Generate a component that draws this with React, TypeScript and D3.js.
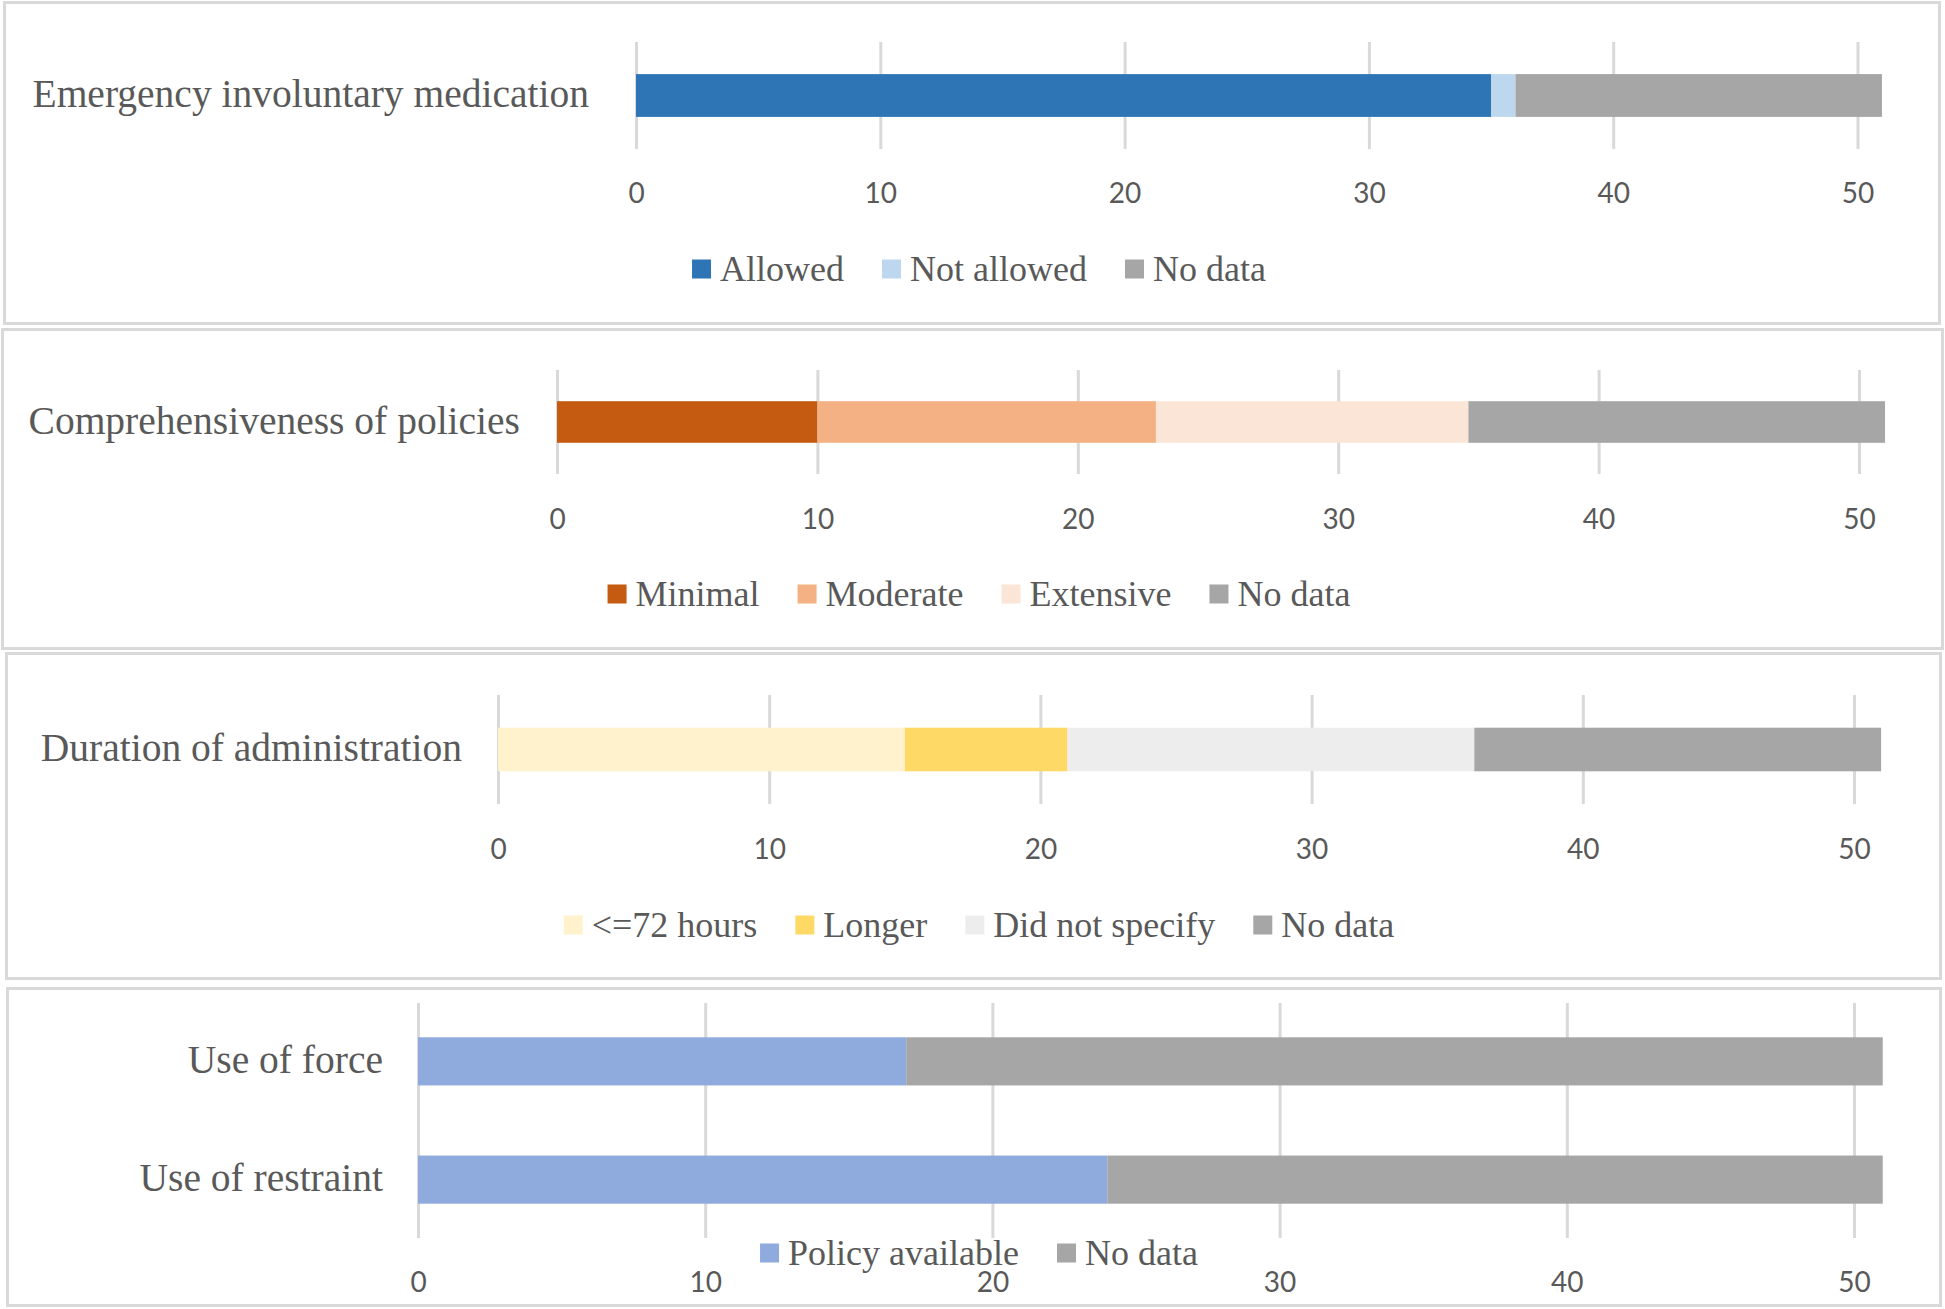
import { useEffect, useRef } from 'react'
import * as d3 from 'd3'

// panel 1 - emergency involuntary medication
const medCategories = ['Emergency involuntary medication']
const medSeries = ['Allowed', 'Not allowed', 'No data']
const medValues = [[35], [1], [15]]
const medColors = ['#2E75B6', '#BDD7EE', '#A6A6A6']

// panel 2 - comprehensiveness of policies
const compCategories = ['Comprehensiveness of policies']
const compSeries = ['Minimal', 'Moderate', 'Extensive', 'No data']
const compValues = [[10], [13], [12], [16]]
const compColors = ['#C55A11', '#F4B183', '#FBE5D6', '#A6A6A6']

// panel 3 - duration of administration
const durCategories = ['Duration of administration']
const durSeries = ['<=72 hours', 'Longer', 'Did not specify', 'No data']
const durValues = [[15], [6], [15], [15]]
const durColors = ['#FFF2CC', '#FFD966', '#EDEDED', '#A6A6A6']

// panel 4 - force / restraint
const forceCategories = ['Use of force', 'Use of restraint']
const forceSeries = ['Policy available', 'No data']
const forceValues = [[17, 24], [34, 27]]
const forceColors = ['#8FAADC', '#A6A6A6']

const xTicks = [0, 10, 20, 30, 40, 50]

const W = 1945
const H = 1309
const TEXT = '#595959'
const GRID = '#D9D9D9'
const SERIF = '"Liberation Serif", "Times New Roman", serif'
const SANS = 'Lato, "Open Sans", sans-serif'

// layout per panel (pixel positions)
const layouts = [
  { box: [3, 1, 1938, 324], x0: 636, x50: 1857.5, band: [42, 149], pi: 0.6, po: 0.3, tickY: 193, legendY: 269, labelRight: 589 },
  { box: [1, 328, 1943, 322], x0: 557, x50: 1859, band: [370, 474], pi: 0.6, po: 0.3, tickY: 519, legendY: 594, labelRight: 520 },
  { box: [5, 652, 1937, 328], x0: 498, x50: 1854, band: [695, 804], pi: 0.6, po: 0.3, tickY: 849, legendY: 925, labelRight: 462 },
  { box: [6, 987, 1936, 320], x0: 418, x50: 1854, band: [1003, 1238], pi: 0.593, po: 0.29, tickY: 1282, legendY: 1253, labelRight: 383 },
]

const panels = [
  { categories: medCategories, series: medSeries, values: medValues, colors: medColors },
  { categories: compCategories, series: compSeries, values: compValues, colors: compColors },
  { categories: durCategories, series: durSeries, values: durValues, colors: durColors },
  { categories: forceCategories, series: forceSeries, values: forceValues, colors: forceColors },
]

export default function App() {
  const svgRef = useRef<SVGSVGElement>(null)

  useEffect(() => {
    if (!svgRef.current) return
    const svg = d3.select(svgRef.current)
    svg.selectAll('*').remove()

    svg.append('rect').attr('width', W).attr('height', H).attr('fill', '#fff')

    panels.forEach((p, i) => {
      const L = layouts[i]
      const g = svg.append('g')

      // panel frame
      g.append('rect')
        .attr('x', L.box[0] + 1.5)
        .attr('y', L.box[1] + 1.5)
        .attr('width', L.box[2] - 3)
        .attr('height', L.box[3] - 3)
        .attr('fill', '#fff')
        .attr('stroke', GRID)
        .attr('stroke-width', 3)

      const x = d3.scaleLinear().domain([0, 50]).range([L.x0, L.x50])
      const y = d3
        .scaleBand<string>()
        .domain(p.categories)
        .range(L.band as [number, number])
        .paddingInner(L.pi)
        .paddingOuter(L.po)

      // vertical gridlines
      g.append('g')
        .attr('transform', `translate(0,${L.band[1]})`)
        .call(
          d3
            .axisBottom(x)
            .tickValues(xTicks)
            .tickSize(-(L.band[1] - L.band[0]))
            .tickFormat(() => '')
        )
        .call(a => a.select('.domain').remove())
        .call(a => a.selectAll('.tick line').attr('stroke', GRID).attr('stroke-width', 3))

      // stacked bars
      const rows = p.categories.map((c, ci) => {
        const r: Record<string, any> = { category: c }
        p.series.forEach((s, si) => (r[s] = p.values[si][ci]))
        return r
      })
      const stacked = d3.stack<Record<string, any>>().keys(p.series)(rows)
      stacked.forEach((layer, si) => {
        g.append('g')
          .attr('fill', p.colors[si])
          .selectAll('rect')
          .data(layer)
          .join('rect')
          .attr('x', d => x(d[0]))
          .attr('y', d => y(d.data.category) as number)
          .attr('width', d => x(d[1]) - x(d[0]))
          .attr('height', y.bandwidth())
      })

      // category labels
      g.append('g')
        .selectAll('text')
        .data(p.categories)
        .join('text')
        .attr('x', L.labelRight)
        .attr('y', d => (y(d) as number) + y.bandwidth() / 2)
        .attr('dy', '0.3em')
        .attr('text-anchor', 'end')
        .attr('font-family', SERIF)
        .attr('font-size', 39.5)
        .attr('fill', TEXT)
        .text(d => d)

      // tick labels
      g.append('g')
        .attr('transform', `translate(0,${L.tickY})`)
        .call(d3.axisBottom(x).tickValues(xTicks).tickSize(0).tickPadding(0))
        .call(a => a.select('.domain').remove())
        .call(a =>
          a
            .selectAll('.tick text')
            .attr('y', 0)
            .attr('dy', '0.36em')
            .attr('fill', TEXT)
            .attr('font-family', SANS)
            .attr('font-size', 28)
        )

      // legend, centred on the panel
      const leg = g.append('g')
      let cx = 0
      p.series.forEach((s, si) => {
        const item = leg.append('g').attr('transform', `translate(${cx},0)`)
        item.append('rect')
          .attr('x', 0)
          .attr('y', L.legendY - 9.5)
          .attr('width', 19)
          .attr('height', 19)
          .attr('fill', p.colors[si])
        const t = item.append('text')
          .attr('x', 28)
          .attr('y', L.legendY)
          .attr('dy', '0.33em')
          .attr('font-family', SERIF)
          .attr('font-size', 36)
          .attr('fill', TEXT)
          .text(s)
        const tw = (t.node() as SVGTextElement).getComputedTextLength()
        cx += 28 + tw + 38
      })
      const total = cx - 38
      leg.attr('transform', `translate(${979 - total / 2},0)`)
    })
  }, [])

  return (
    <svg
      ref={svgRef}
      width={W}
      height={H}
      style={{ position: 'absolute', left: 0, top: 0, display: 'block' }}
    />
  )
}
